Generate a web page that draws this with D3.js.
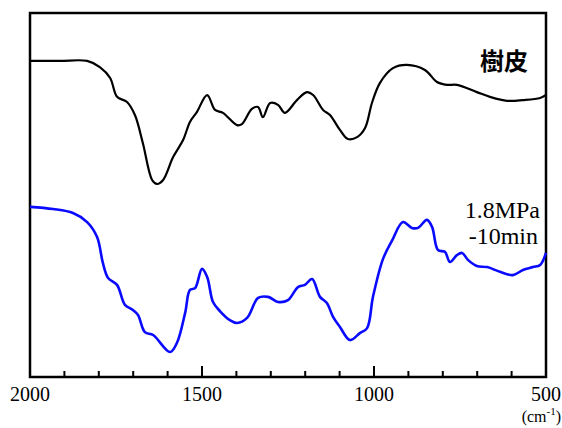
<!DOCTYPE html>
<meta charset="utf-8">
<html>
<head>
<style>
body { margin: 0; background: #fff; }
svg { display: block; }
</style>
<script src="https://d3js.org/d3.v7.min.js"></script>
</head>
<body>
<div id="chart"></div>
<script>
// wavenumber (cm-1) and relative transmittance (arbitrary units)
var barkWn = [2000, 1913, 1834, 1797, 1767, 1747, 1718, 1695, 1672, 1645, 1631, 1613, 1584, 1555, 1535, 1515,
  1485, 1462, 1439, 1398, 1384, 1355, 1337, 1323, 1302, 1279, 1259, 1224, 1195, 1177, 1148, 1128,
  1099, 1076, 1049, 1026, 1006, 983, 945, 904, 852, 817, 788, 759, 701, 663, 613, 567, 517, 500];
var barkT = [86.8, 86.8, 86.8, 85.1, 82.1, 76.9, 75.5, 71.9, 64.2, 54.0, 52.9, 54.0, 60.3, 65.0, 70.0, 72.7,
  77.4, 73.3, 72.5, 69.1, 69.4, 73.6, 74.1, 71.3, 75.2, 74.7, 72.5, 76.0, 78.2, 77.4, 73.3, 71.9,
  67.8, 65.3, 65.8, 68.3, 75.2, 80.7, 84.8, 85.7, 84.3, 81.0, 80.2, 80.2, 78.2, 76.9, 75.8, 76.0, 76.6, 77.4];

var treatedWn = [2000, 1933, 1875, 1834, 1805, 1788, 1773, 1747, 1724, 1701, 1686, 1666, 1642, 1593, 1573, 1549,
  1535, 1520, 1500, 1485, 1468, 1448, 1419, 1398, 1369, 1337, 1308, 1279, 1250, 1221, 1201, 1180,
  1157, 1137, 1119, 1099, 1070, 1041, 1020, 1003, 974, 948, 916, 890, 872, 846, 831, 814,
  794, 779, 759, 744, 727, 701, 671, 634, 596, 567, 538, 517, 500];
var treatedT = [46.6, 46.0, 44.9, 42.4, 38.3, 31.1, 27.0, 25.1, 19.6, 18.2, 16.8, 12.1, 11.3, 6.6, 9.1, 17.4,
  23.7, 24.2, 29.5, 27.3, 20.4, 17.9, 15.4, 14.6, 16.0, 21.5, 21.8, 20.4, 20.9, 24.5, 25.1, 26.7,
  21.8, 20.1, 16.3, 13.5, 9.9, 11.8, 13.2, 21.8, 32.2, 37.2, 42.4, 40.8, 40.8, 43.0, 41.0, 34.7,
  34.2, 31.4, 33.3, 33.9, 32.0, 30.3, 30.0, 28.7, 27.8, 29.2, 30.0, 30.6, 33.9];

var majorTicks = [2000, 1500, 1000, 500];
var minorTicks = d3.range(1900, 500, -100).filter(function(d) { return d % 500 != 0; });

var W = 562, H = 428;
var mLeft = 30, mRight = 546, mTop = 13, mBottom = 377;

var svg = d3.select("#chart").append("svg")
  .attr("width", W)
  .attr("height", H);

var x = d3.scaleLinear().domain([2000, 500]).range([mLeft, mRight]);
var y = d3.scaleLinear().domain([0, 100]).range([376, mTop]);

// frame
svg.append("rect")
  .attr("x", mLeft).attr("y", mTop)
  .attr("width", mRight - mLeft).attr("height", mBottom - mTop)
  .attr("fill", "none").attr("stroke", "#000").attr("stroke-width", 2.5);

// ticks pointing inward from the bottom edge
svg.selectAll(".major").data(majorTicks).enter().append("line")
  .attr("x1", d => x(d)).attr("x2", d => x(d))
  .attr("y1", mBottom).attr("y2", mBottom - 11)
  .attr("stroke", "#000").attr("stroke-width", 2);
svg.selectAll(".minor").data(minorTicks).enter().append("line")
  .attr("x1", d => x(d)).attr("x2", d => x(d))
  .attr("y1", mBottom).attr("y2", mBottom - 6)
  .attr("stroke", "#000").attr("stroke-width", 2);

svg.selectAll(".tlabel").data(majorTicks).enter().append("text")
  .attr("x", d => x(d))
  .attr("y", 401)
  .attr("text-anchor", "middle")
  .style("font-family", "'Liberation Serif', serif")
  .style("font-size", "20px")
  .text(d => d);

// unit label
var unit = svg.append("text")
  .attr("x", 561).attr("y", 422)
  .attr("text-anchor", "end")
  .style("font-family", "'Liberation Serif', serif")
  .style("font-size", "16px");
unit.append("tspan").text("(cm");
unit.append("tspan").attr("dy", -7).style("font-size", "11px").text("-1");
unit.append("tspan").attr("dy", 7).text(")");

var line = d3.line()
  .x(d => x(d[0]))
  .y(d => y(d[1]))
  .curve(d3.curveCatmullRom.alpha(0.5));

svg.append("path")
  .datum(d3.zip(barkWn, barkT))
  .attr("d", line)
  .attr("fill", "none")
  .attr("stroke", "#000")
  .attr("stroke-width", 2.2);

svg.append("path")
  .datum(d3.zip(treatedWn, treatedT))
  .attr("d", line)
  .attr("fill", "none")
  .attr("stroke", "#0a0aff")
  .attr("stroke-width", 2.6);

// series labels
svg.append("text")
  .attr("x", 528).attr("y", 70)
  .attr("text-anchor", "end")
  .style("font-family", "'Noto Sans CJK JP', sans-serif")
  .style("font-weight", "bold")
  .style("font-size", "24px")
  .text("樹皮");

svg.append("text")
  .attr("x", 540).attr("y", 218)
  .attr("text-anchor", "end")
  .style("font-family", "'Liberation Serif', serif")
  .style("font-size", "24px")
  .text("1.8MPa");
svg.append("text")
  .attr("x", 538).attr("y", 244)
  .attr("text-anchor", "end")
  .style("font-family", "'Liberation Serif', serif")
  .style("font-size", "24px")
  .text("-10min");
</script>
</body>
</html>
